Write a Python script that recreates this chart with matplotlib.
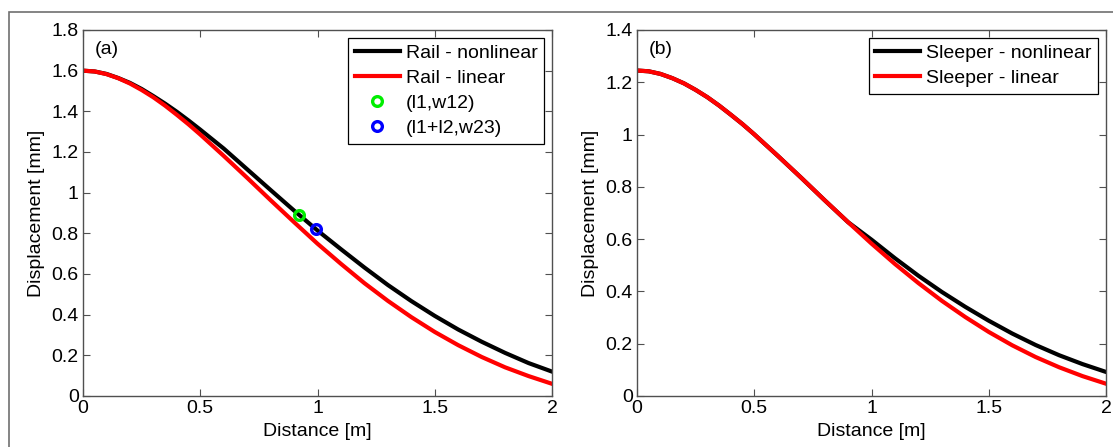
import matplotlib
matplotlib.use('Agg')
import matplotlib.pyplot as plt
from matplotlib.patches import Rectangle
from matplotlib.ticker import FuncFormatter

plt.rcParams['font.family'] = ['Liberation Sans', 'DejaVu Sans']

distance = [0.0, 0.05, 0.1, 0.15, 0.2, 0.25, 0.3, 0.35, 0.4, 0.45, 0.5,
            0.6, 0.7, 0.8, 0.9, 1.0,
            1.1, 1.2, 1.3, 1.4, 1.5, 1.6, 1.7, 1.8, 1.9, 2.0]

# (a) rail displacement [mm]
rail_nonlinear = [1.600, 1.596, 1.584, 1.564, 1.540, 1.510, 1.475, 1.438, 1.398, 1.355, 1.310,
                  1.217, 1.115, 1.013, 0.912, 0.814,
                  0.722, 0.632, 0.546, 0.467, 0.394, 0.327, 0.267, 0.212, 0.162, 0.120]
rail_linear = [1.600, 1.596, 1.583, 1.563, 1.537, 1.505, 1.469, 1.428, 1.383, 1.336, 1.286,
               1.181, 1.073, 0.963, 0.855, 0.749,
               0.650, 0.555, 0.468, 0.388, 0.315, 0.250, 0.192, 0.141, 0.098, 0.060]
point_l1 = (0.921, 0.890)
point_l1l2 = (0.994, 0.821)

# (b) sleeper displacement [mm]
sleeper_nonlinear = [1.245, 1.242, 1.232, 1.216, 1.196, 1.171, 1.143, 1.111, 1.076, 1.040, 1.001,
                     0.919, 0.835, 0.749, 0.665, 0.598,
                     0.527, 0.460, 0.398, 0.341, 0.288, 0.239, 0.195, 0.156, 0.122, 0.092]
sleeper_linear = [1.245, 1.242, 1.232, 1.216, 1.196, 1.171, 1.143, 1.111, 1.076, 1.040, 1.001,
                  0.919, 0.835, 0.749, 0.665, 0.583,
                  0.505, 0.432, 0.364, 0.302, 0.245, 0.194, 0.149, 0.110, 0.076, 0.047]

W, H = 1113, 447
fig = plt.figure(figsize=(W / 100, H / 100), dpi=100)

# grey frame of the original page, cropped at right and bottom
fig.patches.append(Rectangle((9 / W, -0.1), 1.2, 1.1 - 12 / H, transform=fig.transFigure,
                             fill=False, edgecolor='#707070', linewidth=1.2))

ax1 = fig.add_axes([83 / W, 51 / H, 469 / W, 366 / H])
ax2 = fig.add_axes([637 / W, 51 / H, 469 / W, 366 / H])

fs = 14
g = FuncFormatter(lambda v, p: '%g' % round(v, 3))


def style(ax, ymax, ystep):
    ax.set_xlim(0, 2)
    ax.set_ylim(0, ymax)
    ax.set_xticks([0, 0.5, 1, 1.5, 2])
    n = int(round(ymax / ystep))
    ax.set_yticks([i * ystep for i in range(n + 1)])
    ax.xaxis.set_major_formatter(g)
    ax.yaxis.set_major_formatter(g)
    ax.tick_params(direction='in', top=True, right=True, labelsize=fs, length=5,
                   color='#505050', width=0.8, pad=3)
    for s in ax.spines.values():
        s.set_color('#505050')
        s.set_linewidth(1.0)
    ax.set_xlabel('Distance [m]', fontsize=fs, labelpad=4)
    ax.set_ylabel('Displacement [mm]', fontsize=fs, labelpad=5)


def legend(ax):
    leg = ax.legend(loc='upper right', fontsize=fs, handlelength=2.3, labelspacing=0.38,
                    borderaxespad=0.4, fancybox=False, framealpha=1, handletextpad=0.3,
                    borderpad=0.35)
    leg.get_frame().set_edgecolor('black')
    leg.get_frame().set_linewidth(0.9)


ax1.plot(distance, rail_nonlinear, color='black', lw=3, label='Rail - nonlinear')
ax1.plot(distance, rail_linear, color='red', lw=3, label='Rail - linear')
ax1.plot(*point_l1, 'o', mfc='none', mec='#00ee00', mew=2.4, ms=7, label='(l1,w12)')
ax1.plot(*point_l1l2, 'o', mfc='none', mec='#0000ff', mew=2.4, ms=7, label='(l1+l2,w23)')
style(ax1, 1.8, 0.2)
ax1.text(0.025, 0.97, '(a)', transform=ax1.transAxes, fontsize=fs, va='top')
legend(ax1)

ax2.plot(distance, sleeper_nonlinear, color='black', lw=3, label='Sleeper - nonlinear')
ax2.plot(distance, sleeper_linear, color='red', lw=3, label='Sleeper - linear')
style(ax2, 1.4, 0.2)
ax2.text(0.025, 0.97, '(b)', transform=ax2.transAxes, fontsize=fs, va='top')
legend(ax2)

fig.savefig('out.png', dpi=100)
